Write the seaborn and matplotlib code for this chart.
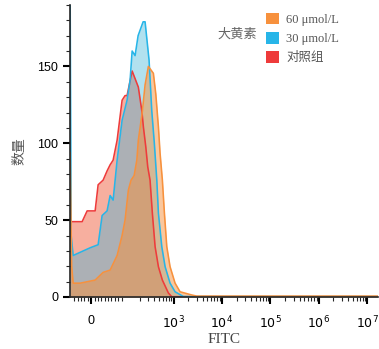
import numpy as np
import pandas as pd
import matplotlib
matplotlib.use("Agg")
import matplotlib.pyplot as plt
import seaborn as sns
from matplotlib.patches import Patch
from matplotlib.ticker import FixedLocator

# FITC 荧光强度 与 细胞数量
red_x = [-62, -53, -26.5, -11.8, 11.8, 20.6, 35.3, 47, 56, 64.8, 76.6, 91.3, 100, 110, 140, 188, 222, 239,
         268, 294, 328, 366, 417, 488, 589, 784, 920, 16500000]
red_y = [49, 49, 49, 56, 56, 73, 76, 82, 86, 89, 102, 128, 131, 131, 147, 136.5, 121, 110.6,
         97.6, 84.6, 76, 54.5, 32.7, 19.7, 11, 2.6, 0.2, 0]

blue_x = [-62, -59, -53, -3, 20.6, 32.4, 47, 56, 64.8, 76.6, 91.3, 110, 127, 140, 161, 186, 236, 259,
          313, 356, 402, 452, 488, 573, 671, 849, 1077, 1597, 16500000]
blue_y = [200, 40, 27, 32, 34, 53, 56, 66, 63, 89, 115, 128, 141, 160, 157, 170, 179, 179,
          154, 121, 100, 76, 54.5, 32.7, 19.7, 9, 3.4, 0.3, 0.3]

orange_x = [-62, -57.5, -53, -32, 11.8, 35.3, 56, 76.6, 91.3, 100, 117, 133, 154, 175, 188, 228, 259,
            303, 384, 431, 488, 528, 589, 649, 727, 849, 1077, 1365, 2377, 3013, 16500000]
orange_y = [94, 20, 9, 9, 11, 16, 17.5, 27, 40, 50, 69.5, 76, 79, 89, 102, 121, 138,
            150, 145.5, 132, 110.6, 93.5, 76, 54.5, 32.7, 19.7, 9, 3.4, 1.3, 0.6, 0.6]

groups = ["对照组", "30 μmol/L", "60 μmol/L"]
line_colors = {"对照组": "#EE3B3B", "30 μmol/L": "#27B5E8", "60 μmol/L": "#F7913D"}
fill_colors = {"对照组": "#ED3911", "30 μmol/L": "#3CB4D7", "60 μmol/L": "#F7913D"}
fill_alpha = {"对照组": 0.4, "30 μmol/L": 0.4, "60 μmol/L": 0.5}

sns.set_style("ticks")
plt.rcParams['font.family'] = ['Liberation Sans', 'Noto Sans CJK SC', 'DejaVu Sans']
plt.rcParams['axes.unicode_minus'] = False

fig = plt.figure(figsize=(3.79, 3.49), dpi=100)
ax = fig.add_axes([0.185, 0.149, 0.812, 0.837])

series = {"对照组": (red_x, red_y), "30 μmol/L": (blue_x, blue_y), "60 μmol/L": (orange_x, orange_y)}
for g in groups:
    xs, ys = series[g]
    df = pd.DataFrame({"FITC": xs, "count": ys})
    ax.fill_between(df["FITC"], df["count"], 0, color=fill_colors[g], alpha=fill_alpha[g], linewidth=0)
    sns.lineplot(data=df, x="FITC", y="count", color=line_colors[g], linewidth=1.15,
                 estimator=None, sort=False, ax=ax)

# 线性区宽度 = linscale / (1 - 1/10) 个数量级
ax.set_xscale("symlog", linthresh=100, linscale=0.63)
ax.set_xlim(-62, 16500000)
ax.set_ylim(0, 190)

ax.set_xticks([0, 1e3, 1e4, 1e5, 1e6, 1e7])
ax.set_xticklabels(["0", r"$10^{3}$", r"$10^{4}$", r"$10^{5}$", r"$10^{6}$", r"$10^{7}$"])
minor = [-50, -40, -30, -20, -10, 10, 20, 30, 40, 50, 60, 70, 80, 90]
for dec in [100, 1000, 10000, 100000, 1000000]:
    minor += [dec * k for k in range(2, 10)]
ax.xaxis.set_minor_locator(FixedLocator(minor))
ax.set_yticks([0, 50, 100, 150])
ax.yaxis.set_minor_locator(FixedLocator(list(range(10, 191, 10))))

ax.tick_params(axis="both", which="major", direction="out", length=5, width=1.5, labelsize=9, colors="black")
ax.tick_params(axis="both", which="minor", direction="out", length=3, width=0.8)
ax.tick_params(axis="x", pad=8)
sns.despine(ax=ax)
ax.spines["left"].set_linewidth(1.2)
ax.spines["bottom"].set_linewidth(1.2)

ax.set_xlabel("FITC", family=['Liberation Serif', 'Noto Sans CJK SC'], fontsize=11, color="#444444", labelpad=1)
ax.set_ylabel("数量", family=['Noto Sans CJK SC'], fontsize=10, color="#555555", labelpad=8)

handles = [Patch(facecolor=line_colors[g], edgecolor="none") for g in ["60 μmol/L", "30 μmol/L", "对照组"]]
leg = ax.legend(handles, ["60 μmol/L", "30 μmol/L", "对照组"], frameon=False,
                loc="upper left", bbox_to_anchor=(0.6, 1.01), handlelength=1.0, handleheight=1.0,
                handletextpad=0.6, labelspacing=0.5,
                prop={"family": ['Liberation Serif', 'Noto Sans CJK SC'], "size": 9})
for t in leg.get_texts():
    t.set_color("#555555")
fig.text(0.575, 0.893, "大黄素", family=['Noto Sans CJK SC'], fontsize=9.5, color="#666666")

fig.savefig("out.png", dpi=100)
